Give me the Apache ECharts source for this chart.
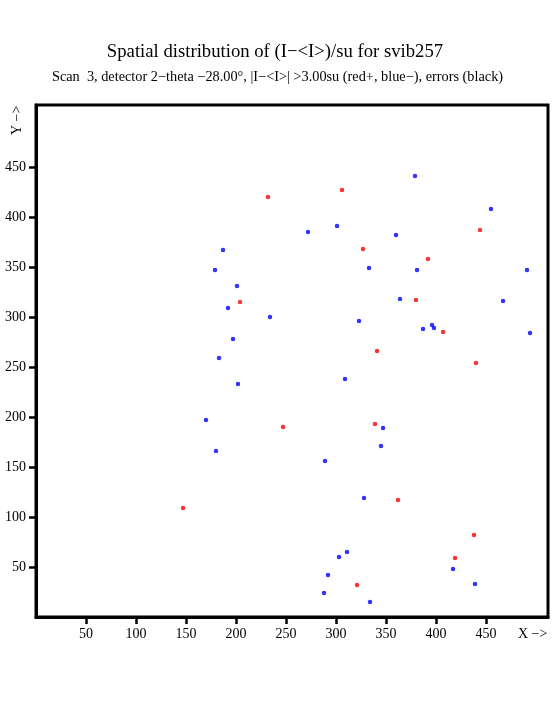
<!DOCTYPE html>
<html>
<head>
<meta charset="utf-8">
<script src="https://cdn.jsdelivr.net/npm/echarts@6/dist/echarts.min.js"></script>
<style>html,body{margin:0;padding:0;background:#fff;}#c{width:555px;height:725px;}</style>
</head>
<body>
<div id="c"></div>
<script>
var titleText = 'Spatial distribution of (I\u2212<I>)/su for svib257';
var subText = 'Scan  3, detector 2\u2212theta \u221228.00\u00b0, |I\u2212<I>| >3.00su (red+, blue\u2212), errors (black)';
var tickValues = [50, 100, 150, 200, 250, 300, 350, 400, 450];
var blueX = [187,179,201,192,234,197,183,202, 379,301,272,360,333,381,364,323,309, 455,491,467,396,387,398,494, 170,180, 347,345,289,328,311,303,292,288,334, 417,439];
var blueY = [367,347,331,309,300,278,259,233, 441,391,385,382,349,347,318,296,238, 408,347,316,292,288,289,284, 197,166, 189,171,156,119,65,60,42,24,15, 48,33];
var redX = [232,204,306,327,380,341,444,392,407,440,147,247,339,362,321,438,419];
var redY = [420,315,427,368,317,266,387,358,285,254,109,190,193,117,32,82,59];

function pairs(xs, ys){ return xs.map(function(x,i){ return [x, ys[i]]; }); }

var font = '"Liberation Serif", "DejaVu Serif", serif';
var chart = echarts.init(document.getElementById('c'), null, {renderer:'canvas'});
var axisCommon = {
  type: 'value', min: 0, max: 512,
  splitLine: {show: false},
  axisLine: {show: true, onZero: false, lineStyle: {color: '#000', width: 3}},
  axisTick: {show: true, inside: false, length: 7, lineStyle: {color: '#000', width: 2.5}, customValues: tickValues},
  axisLabel: {show: true, color: '#000', fontFamily: font, fontSize: 14, margin: 10, customValues: tickValues}
};
chart.setOption({
  animation: false,
  backgroundColor: '#fff',
  title: [
    {text: titleText, left: 270, top: 38, textAlign: 'center',
     textStyle: {fontFamily: font, fontSize: 18.7, fontWeight: 'normal', color: '#000'}},
    {text: subText, left: 272.5, top: 65, textAlign: 'center',
     textStyle: {fontFamily: font, fontSize: 14.3, fontWeight: 'normal', color: '#000'}}
  ],
  grid: {left: 36, top: 105, width: 512, height: 512, show: true, borderColor: '#000', borderWidth: 3, backgroundColor: 'transparent'},
  xAxis: axisCommon,
  yAxis: axisCommon,
  graphic: [
    {type: 'text', left: 518, top: 627, style: {text: 'X \u2212>', font: '14px ' + font, fill: '#000'}},
    {type: 'text', x: 10, y: 135, rotation: Math.PI/2, style: {text: 'Y \u2212>', font: '14px ' + font, fill: '#000'}}
  ],
  series: [
    {type: 'scatter', data: pairs(blueX, blueY), symbol: 'circle', symbolSize: 4.5, itemStyle: {color: '#0000ff'}},
    {type: 'scatter', data: pairs(redX, redY), symbol: 'circle', symbolSize: 4.5, itemStyle: {color: '#ff0000'}}
  ]
});
</script>
</body>
</html>
